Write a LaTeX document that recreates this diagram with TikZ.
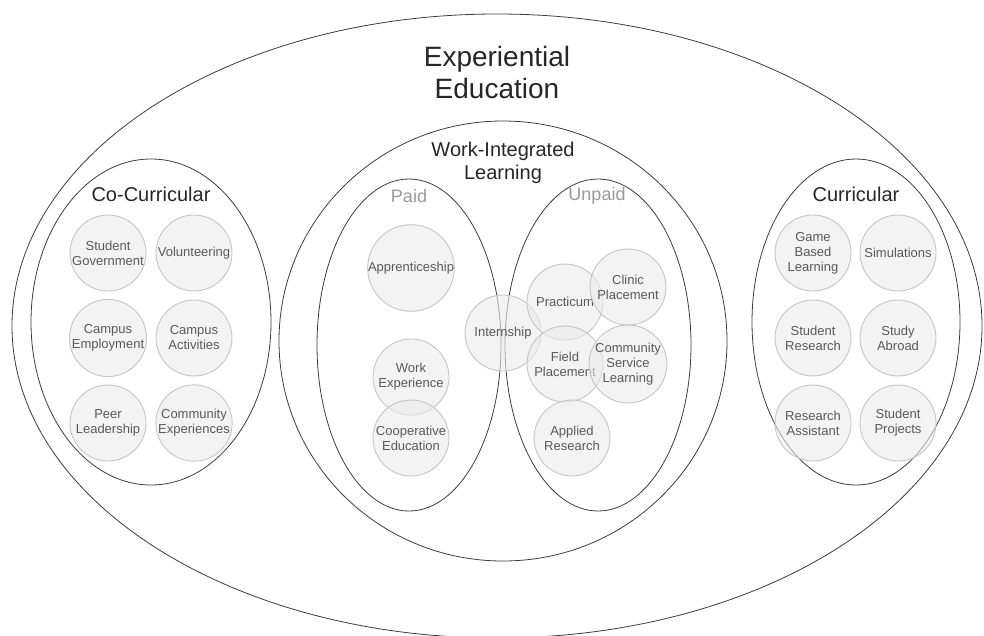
\documentclass[tikz,border=0pt]{standalone}
\usepackage{fontspec}
\setmainfont{Liberation Sans}
\usetikzlibrary{shapes.geometric}

\definecolor{itemfill}{HTML}{EBEBEB}
\definecolor{itemline}{HTML}{C6C6C6}
\definecolor{itemtext}{HTML}{595959}
\definecolor{frameline}{HTML}{3C3C3C}

\begin{document}
\begin{tikzpicture}[x=1pt, y=-1pt,
    group/.style={ellipse, draw=frameline, line width=0.8pt, inner sep=0pt},
    item/.style={circle, draw=itemline, fill=itemfill, fill opacity=0.6, text opacity=1, text=itemtext,
        line width=0.9pt, minimum size=76pt, inner sep=0pt, align=center, font=\fontsize{13}{15}\selectfont},
    heading/.style={align=center, text=black!85, font=\fontsize{20}{23}\selectfont},
    paytag/.style={text=black!40, font=\fontsize{18}{20}\selectfont}
]
    \useasboundingbox (0,0) rectangle (984,635);

    % Outer region
    \node[group, minimum width=970pt, minimum height=624pt] (exp) at (497,326) {};
    \node[align=center, text=black!85, font=\fontsize{28}{32}\selectfont] (exptitle) at (497,72) {Experiential\\Education};

    % Left side: co-curricular
    \node[group, minimum width=240pt, minimum height=326pt] (cocur) at (151,322) {};
    \node[heading] (cocurtitle) at (151,194) {Co-Curricular};
    \node[item] (govt) at (108,253) {Student\\Government};
    \node[item] (volun) at (194,253) {Volunteering};
    \node[item] (campemp) at (108,338) {Campus\\Employment};
    \node[item] (campact) at (194,338) {Campus\\Activities};
    \node[item] (peer) at (108,423) {Peer\\Leadership};
    \node[item] (commexp) at (194,423) {Community\\Experiences};

    % Middle: work-integrated learning
    \node[group, minimum width=448pt, minimum height=440pt] (wil) at (503,341) {};
    \node[heading] (wiltitle) at (503,163) {Work-Integrated\\Learning};

    \node[group, minimum width=184pt, minimum height=332pt] (paid) at (409,345) {};
    \node[paytag] (paidtitle) at (409,196) {Paid};
    \node[group, minimum width=186pt, minimum height=332pt] (unpaid) at (598,345) {};
    \node[paytag] (unpaidtitle) at (597,196) {Unpaid};

    \node[item] (appr) at (411,268) {Apprenticeship};
    \node[item] (workexp) at (411,377) {Work\\Experience};
    \node[item] (coop) at (411,438) {Cooperative\\Education};
    \node[item] (intern) at (503,333) {Internship};
    \node[item] (pract) at (565,302) {Practicum};
    \node[item] (clinic) at (628,287) {Clinic\\Placement};
    \node[item] (field) at (565,364) {Field\\Placement};
    \node[item] (csl) at (628,364) {Community\\Service\\Learning};
    \node[item] (applied) at (572,438) {Applied\\Research};

    % Right side: curricular
    \node[group, minimum width=208pt, minimum height=326pt] (cur) at (856,322) {};
    \node[heading] (curtitle) at (856,194) {Curricular};
    \node[item] (game) at (813,253) {Game\\Based\\Learning};
    \node[item] (sim) at (898,253) {Simulations};
    \node[item] (stures) at (813,338) {Student\\Research};
    \node[item] (abroad) at (898,338) {Study\\Abroad};
    \node[item] (resasst) at (813,423) {Research\\Assistant};
    \node[item] (proj) at (898,423) {Student\\Projects};
\end{tikzpicture}
\end{document}
